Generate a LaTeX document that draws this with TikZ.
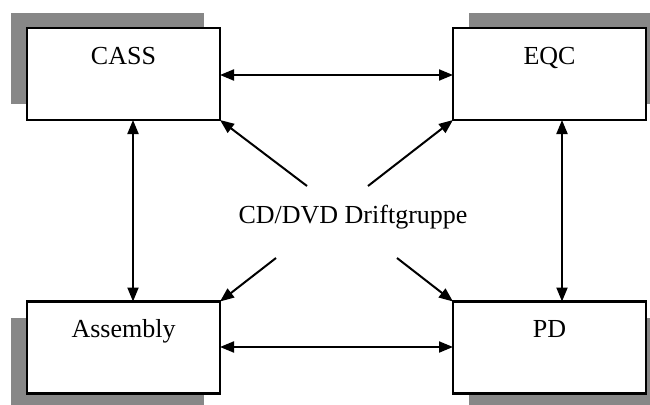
\documentclass[tikz,border=0pt]{standalone}
\usepackage{fontspec}
\setmainfont{Liberation Serif}
\usetikzlibrary{arrows.meta,calc}

\tikzset{
  unitbox/.style={draw=black, line width=2.2pt, fill=white, minimum width=193pt,
                  minimum height=92pt, inner sep=0pt, outer sep=0pt},
  shade/.style={fill=black!47, draw=none},
  boxlabel/.style={anchor=base, inner sep=0pt, font=\fontsize{26}{31}\selectfont},
  tip/.style={Triangle[length=14pt,width=11pt]},
  link/.style={line width=2pt, -{Triangle[length=14pt,width=11pt]}},
  dlink/.style={line width=2pt, {Triangle[length=14pt,width=11pt]}-{Triangle[length=14pt,width=11pt]}},
}

\begin{document}
\begin{tikzpicture}[x=1pt, y=-1pt]
  \useasboundingbox (0,0) rectangle (650,404);
  \clip (0,0) rectangle (650,404);
  \fill[white] (0,0) rectangle (650,404);

  % offset shadows behind the four boxes
  \fill[shade] (11,13) rectangle (204,104);
  \fill[shade] (469,13) rectangle (662,104);
  \fill[shade] (11,318) rectangle (204,409);
  \fill[shade] (469,318) rectangle (662,409);

  % boxes
  \node[unitbox] (cass) at (123.5,74) {};
  \node[unitbox] (eqc)  at (549.5,74) {};
  \node[unitbox] (asm)  at (123.5,347.5) {};
  \node[unitbox] (pd)   at (549.5,347.5) {};

  \node[boxlabel] (cassT) at ($(cass.north)+(0,36)$) {CASS};
  \node[boxlabel] (eqcT)  at ($(eqc.north)+(0,36)$)  {EQC};
  \node[boxlabel] (asmT)  at ($(asm.north)+(0,36)$)  {Assembly};
  \node[boxlabel] (pdT)   at ($(pd.north)+(0,36)$)   {PD};

  % central group
  \node[boxlabel] (grp) at (353,223) {CD/DVD Driftgruppe};

  % two-way links between neighbouring boxes
  \draw[dlink] ($(cass.east)+(0,1)$) -- ($(eqc.west)+(0,1)$);
  \draw[dlink] ($(asm.east)+(0,-0.5)$) -- ($(pd.west)+(0,-0.5)$);
  \draw[dlink] ($(cass.south)+(9.5,0)$) -- ($(asm.north)+(9.5,0)$);
  \draw[dlink] ($(eqc.south)+(12.5,0)$) -- ($(pd.north)+(12.5,0)$);

  % links from the central group to the box corners
  \coordinate (ul) at (307,186);
  \coordinate (ur) at (368,186);
  \coordinate (ll) at (276,258);
  \coordinate (lr) at (397,258);
  \draw[link] (ul) -- (cass.south east);
  \draw[link] (ur) -- (eqc.south west);
  \draw[link] (ll) -- (asm.north east);
  \draw[link] (lr) -- (pd.north west);
\end{tikzpicture}
\end{document}
